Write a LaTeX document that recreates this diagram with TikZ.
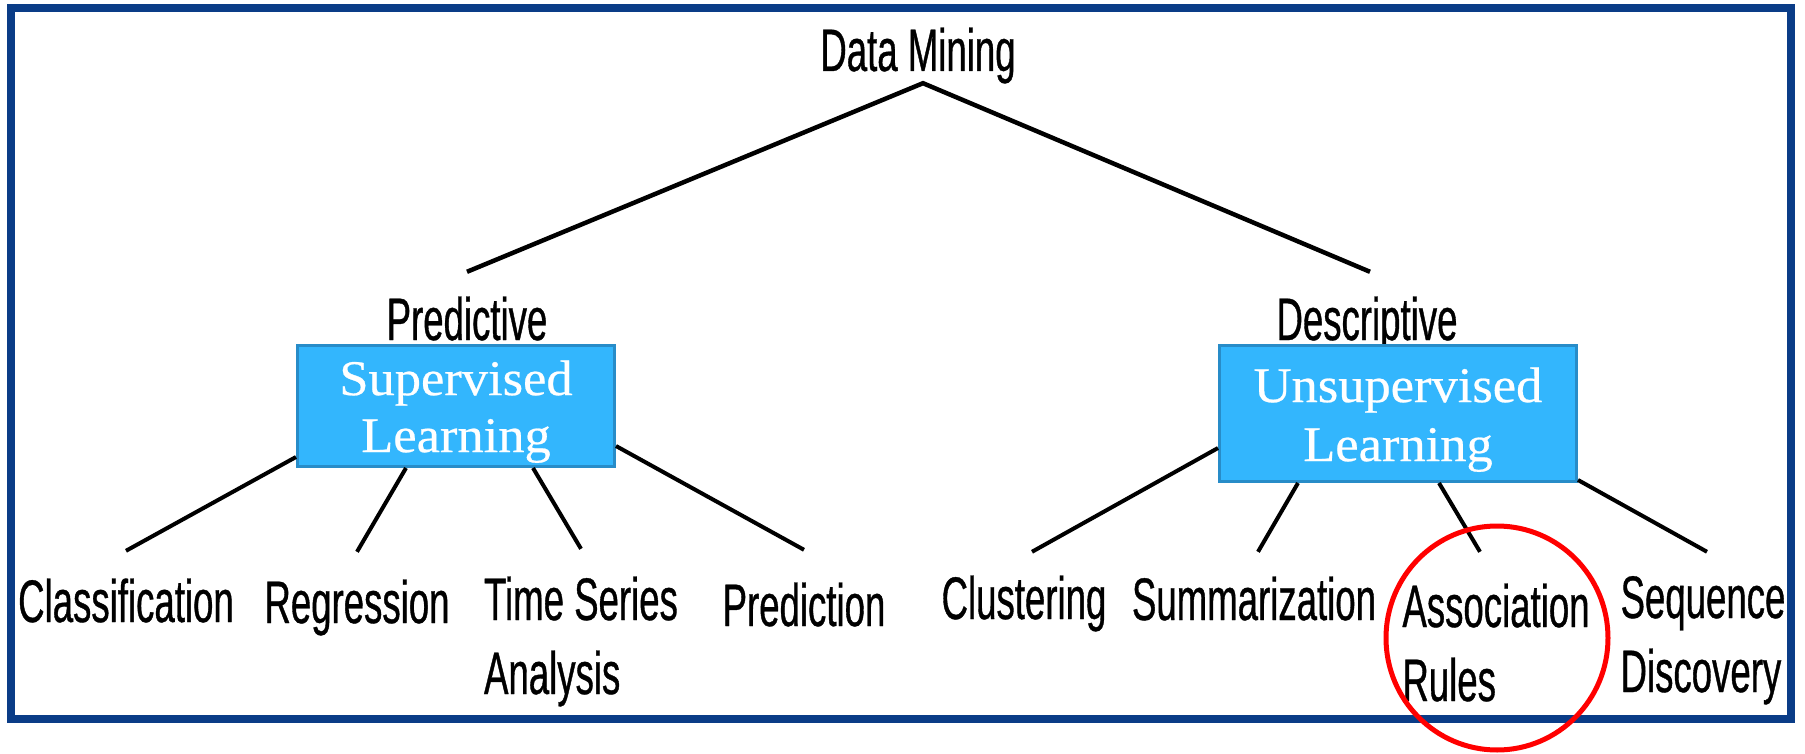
\documentclass[tikz,border=0pt]{standalone}
\usepackage{fontspec}
\newfontfamily\sansc[FakeStretch=0.61,FakeBold=0.6]{Liberation Sans}
\newfontfamily\serifc[FakeStretch=1.05,FakeBold=0.5]{Liberation Serif}
\definecolor{framecol}{RGB}{10,60,135}
\definecolor{boxfill}{RGB}{51,182,253}
\definecolor{boxline}{RGB}{40,140,200}
\definecolor{ringred}{RGB}{255,0,0}
\tikzset{
  lbl/.style={font=\sansc\fontsize{60}{74}\selectfont, inner xsep=0pt, anchor=base},
  rootlbl/.style={lbl, text depth=12pt, inner ysep=0pt},
  midlbl/.style={lbl, text height=43pt, inner ysep=25pt},
  leaflbl/.style={lbl, text height=43pt, inner ysep=28pt},
  learnbox/.style={draw=boxline, fill=boxfill, line width=3pt, text=white, align=center, inner sep=0pt},
  conn/.style={line width=4pt, black},
  topconn/.style={line width=4.5pt, black, line join=miter},
}
\newcommand{\twoline}[2]{\begin{tabular}[t]{@{}l@{}}#1\\#2\end{tabular}}
\begin{document}
\begin{tikzpicture}[x=1pt,y=-1pt]
\useasboundingbox (0,0) rectangle (1805,754);
\fill[white] (0,0) rectangle (1805,754);
\draw[framecol, line width=8pt] (11,8) rectangle (1791,719);

% top levels
\node[rootlbl] (dm) at (918,71) {Data Mining};
\node[midlbl] (pred) at (467,340) {Predictive};
\node[midlbl] (desc) at (1367,340) {Descriptive};

\node[learnbox, minimum width=317pt, minimum height=121pt,
      font=\serifc\fontsize{50}{57}\selectfont] (sup) at (456,406)
      {\rule{0pt}{46pt}Supervised\\Learning};
\node[learnbox, minimum width=357pt, minimum height=136pt,
      font=\serifc\fontsize{50}{59}\selectfont] (unsup) at (1398,413.5)
      {\rule{0pt}{47pt}Unsupervised\\Learning};

% leaves
\node[leaflbl] (class) at (126,622) {Classification};
\node[leaflbl] (regr) at (357,623) {Regression};
\node[leaflbl] (tsa) at (581,620) {\twoline{Time Series}{Analysis}};
\node[leaflbl] (predn) at (804,626) {Prediction};
\node[leaflbl] (clus) at (1024,619) {Clustering};
\node[leaflbl] (summ) at (1254,620) {Summarization};
\node[leaflbl] (assoc) at (1496,627) {\twoline{Association}{Rules}};
\node[leaflbl] (seq) at (1703,618) {\twoline{Sequence}{Discovery}};

% connectors
\draw[topconn] (pred.north) -- ([xshift=5pt]dm.south) -- ([xshift=3pt]desc.north);

\draw[conn] ([yshift=11pt]sup.south west) -- (class.north);
\draw[conn] ([xshift=110pt]sup.south west) -- (regr.north);
\draw[conn] ([xshift=237pt]sup.south west) -- (tsa.north);
\draw[conn] ([yshift=22pt]sup.south east) -- ([yshift=5pt]predn.north);

\draw[conn] ([yshift=35pt]unsup.south west) -- ([xshift=8pt,yshift=-4pt]clus.north);
\draw[conn] ([xshift=80pt]unsup.south west) -- ([xshift=4pt,yshift=-3pt]summ.north);
\draw[conn] ([xshift=221pt]unsup.south west) -- ([xshift=-16pt,yshift=4pt]assoc.north);
\draw[conn] ([yshift=3pt]unsup.south east) -- ([xshift=4pt,yshift=-5pt]seq.north);

% highlight ring
\draw[ringred, line width=5pt] (1497,638) ellipse [x radius=111pt, y radius=112pt];
\end{tikzpicture}
\end{document}
